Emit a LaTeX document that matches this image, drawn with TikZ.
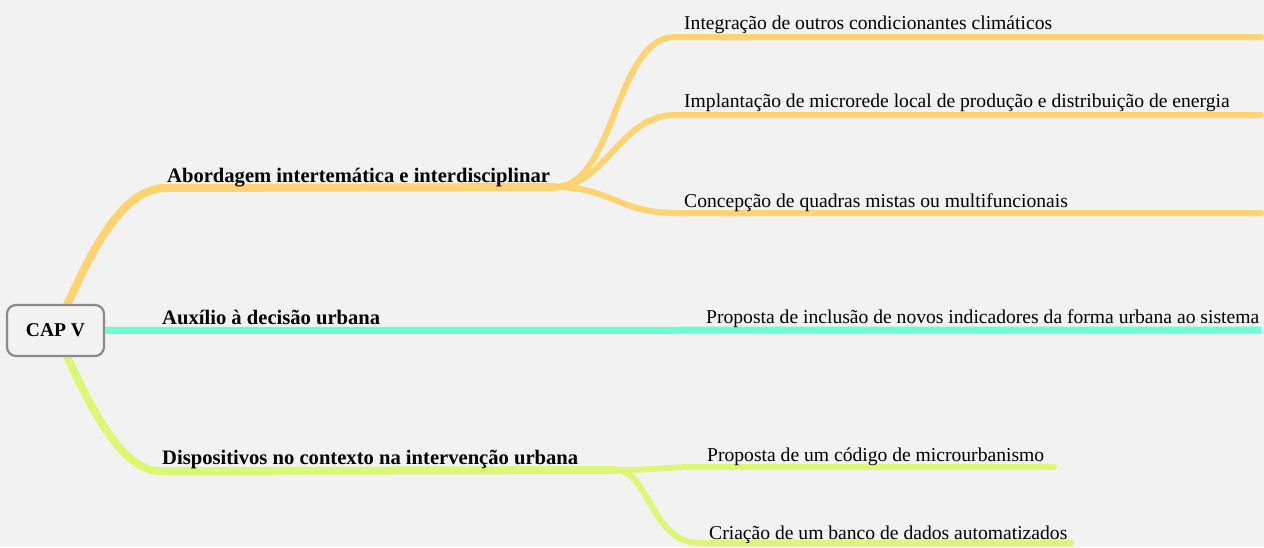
\documentclass[tikz,border=0pt]{standalone}
\usepackage{fontspec}
\setmainfont{Liberation Serif}
\usetikzlibrary{backgrounds}
\definecolor{bg}{HTML}{F2F2F2}
\definecolor{orn}{HTML}{FFD470}
\definecolor{tealc}{HTML}{6FFBD5}
\definecolor{limec}{HTML}{DCF775}
\definecolor{boxline}{HTML}{8A8A8A}
\begin{document}
\begin{tikzpicture}[x=1pt,y=-1pt,
  lbl/.style={anchor=base west,inner sep=0,font=\fontsize{19.6}{22}\selectfont},
  blbl/.style={anchor=base west,inner sep=0,font=\fontsize{20.6}{24}\selectfont\bfseries},
  rootbox/.style={draw=boxline,line width=2.2pt,fill=bg,rounded corners=9pt,
    minimum width=97pt,minimum height=51pt,inner sep=0,font=\fontsize{19.5}{22}\selectfont\bfseries},
  mainline/.style={line width=8pt,line cap=round},
  subline/.style={line width=6pt,line cap=round},
  oline/.style={draw=orn},
  tline/.style={draw=tealc},
  gline/.style={draw=limec}]
\useasboundingbox (0,0) rectangle (1264,547);
% nodes
\node[rootbox] (root) at (55.5,330.5) {CAP V};
\coordinate (o1) at (165,188);
\coordinate (o2) at (555,187);
\coordinate (oa) at (675,37);   \coordinate (oae) at (1261,37);
\coordinate (ob) at (675,115);  \coordinate (obe) at (1261,115);
\coordinate (oc) at (675,213);  \coordinate (oce) at (1261,213);
\coordinate (te) at (1261,330);
\coordinate (g1) at (160,471);
\coordinate (g2) at (615,470);
\coordinate (ga) at (700,467);  \coordinate (gae) at (1054,467);
\coordinate (gb) at (700,543);  \coordinate (gbe) at (1071,543);
\begin{scope}[on background layer]
  \fill[bg] (0,0) rectangle (1264,547);
  % orange branch
  \draw[oline,mainline] (root.center) .. controls (85,265) and (118,188) .. (o1) -- (o2);
  \draw[oline,subline] (o2) .. controls (615,187) and (615,37) .. (oa) -- (oae);
  \draw[oline,subline] (o2) .. controls (605,187) and (620,115) .. (ob) -- (obe);
  \draw[oline,subline] (o2) .. controls (610,187) and (620,213) .. (oc) -- (oce);
  % teal branch
  \draw[tline,line width=7pt] (root.center) -- (te);
  % lime branch
  \draw[gline,mainline] (root.center) .. controls (85,396) and (118,471) .. (g1) -- (g2);
  \draw[gline,subline] (g2) .. controls (660,470) and (660,467) .. (ga) -- (gae);
  \draw[gline,subline] (g2) .. controls (650,470) and (650,543) .. (gb) -- (gbe);
\end{scope}
% labels
\node[blbl] (la) at (167,182) {Abordagem intertemática e interdisciplinar};
\node[blbl] (lt) at (162,324) {Auxílio à decisão urbana};
\node[blbl] (lg) at (162,464) {Dispositivos no contexto na intervenção urbana};
\node[lbl] (la1) at (684,29) {Integração de outros condicionantes climáticos};
\node[lbl] (la2) at (684,107) {Implantação de microrede local de produção e distribuição de energia};
\node[lbl] (la3) at (684,207) {Concepção de quadras mistas ou multifuncionais};
\node[lbl] (lt1) at (706,323) {Proposta de inclusão de novos indicadores da forma urbana ao sistema};
\node[lbl] (lg1) at (707,461) {Proposta de um código de microurbanismo};
\node[lbl] (lg2) at (709,539) {Criação de um banco de dados automatizados};
\end{tikzpicture}
\end{document}
